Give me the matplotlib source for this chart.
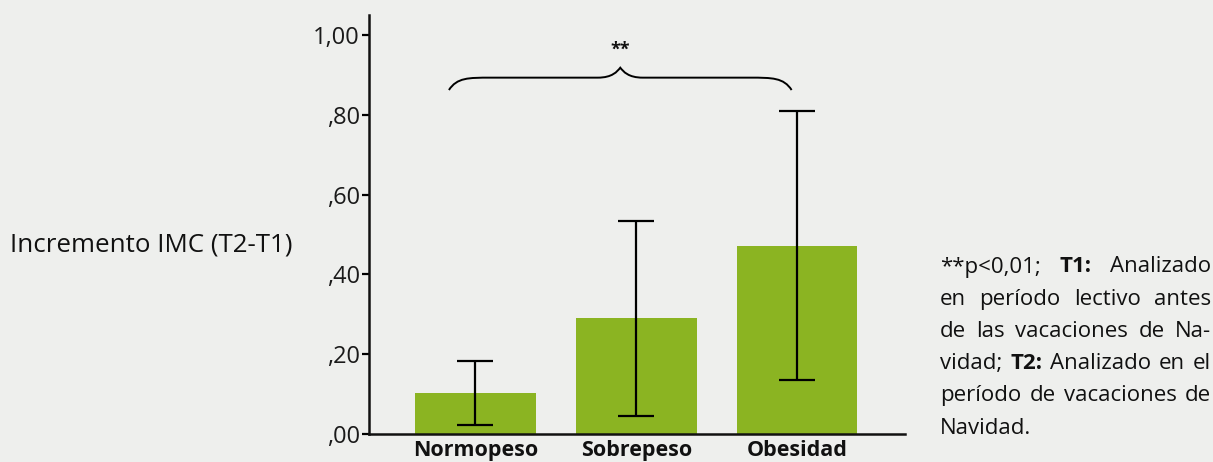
import matplotlib
matplotlib.use("Agg")
import matplotlib.pyplot as plt
import matplotlib.transforms as mtransforms
from matplotlib.path import Path
from matplotlib.patches import PathPatch
import numpy as np

categories = ["Normopeso", "Sobrepeso", "Obesidad"]
means = [0.103, 0.290, 0.472]
errors = [0.080, 0.245, 0.337]
yticks = [0.0, 0.2, 0.4, 0.6, 0.8, 1.0]
ytick_labels = [",00", ",20", ",40", ",60", ",80", "1,00"]
ylabel = "Incremento IMC (T2-T1)"
sig_label = "**"
note_lines = [
    [("**p<0,01;", False), ("T1:", True), ("Analizado", False)],
    [("en", False), ("período", False), ("lectivo", False), ("antes", False)],
    [("de", False), ("las", False), ("vacaciones", False), ("de", False), ("Na-", False)],
    [("vidad;", False), ("T2:", True), ("Analizado", False), ("en", False), ("el", False)],
    [("período", False), ("de", False), ("vacaciones", False), ("de", False)],
    [("Navidad.", False)],
]

BG = "#eeefed"
BAR = "#8bb422"
FONT = "Open Sans"

W, H = 1213, 462
fig = plt.figure(figsize=(W / 100, H / 100), dpi=100, facecolor=BG)
ax = fig.add_axes([369 / W, 1 - 434 / H, (905 - 369) / W, (434 - 15) / H])
ax.set_facecolor(BG)

x = np.arange(len(categories))
ax.bar(x, means, width=0.75, color=BAR, zorder=2)
ax.errorbar(x, means, yerr=errors, fmt="none", ecolor="black", elinewidth=1.6,
            capsize=13, capthick=1.6, zorder=3)

ax.set_xlim(-0.662, 2.671)
ax.set_ylim(0, 1.05)
ax.set_yticks(yticks)
ax.set_yticklabels(ytick_labels, fontfamily=FONT, fontsize=17, color="#1a1a1a")
shift = mtransforms.ScaledTranslation(0, 3 / 100, fig.dpi_scale_trans)
for lbl in ax.get_yticklabels():
    lbl.set_transform(lbl.get_transform() + shift)
ax.set_xticks(x)
ax.set_xticklabels(categories, fontfamily=FONT, fontsize=15.5, fontweight="bold", color="#111111")
ax.tick_params(axis="y", direction="out", length=5, width=1.6, pad=1.5)
ax.tick_params(axis="x", length=0, pad=4)
for s in ["top", "right"]:
    ax.spines[s].set_visible(False)
for s in ["left", "bottom"]:
    ax.spines[s].set_linewidth(1.8)
    ax.spines[s].set_color("#111111")

# brace in data coords
x0, x1 = -0.165, 1.966
xt = (x0 + x1) / 2
yb, ym, ytop = 0.862, 0.893, 0.918
codes = [Path.MOVETO, Path.CURVE4, Path.CURVE4, Path.CURVE4, Path.LINETO,
         Path.CURVE4, Path.CURVE4, Path.CURVE4,
         Path.CURVE4, Path.CURVE4, Path.CURVE4, Path.LINETO,
         Path.CURVE4, Path.CURVE4, Path.CURVE4]
d1 = 0.26
d2 = 0.14
verts = [(x0, yb), (x0 + 0.05, ym), (x0 + 0.12, ym), (x0 + d1, ym), (xt - d2, ym),
         (xt - 0.05, ym), (xt - 0.02, ytop - 0.01), (xt, ytop),
         (xt + 0.02, ytop - 0.01), (xt + 0.05, ym), (xt + d2, ym), (x1 - d1, ym),
         (x1 - 0.12, ym), (x1 - 0.05, ym), (x1, yb)]
ax.add_patch(PathPatch(Path(verts, codes), facecolor="none", edgecolor="black",
                       lw=1.4, clip_on=False, zorder=4))
ax.text(xt, 0.962, sig_label, ha="center", va="center", fontsize=13, fontweight="bold",
        fontfamily=FONT, color="#111111")

fig.text(10 / W, 1 - 245 / H, ylabel, ha="left", va="center", fontfamily=FONT,
         fontsize=18.6, color="#111111")

# justified note
renderer = fig.canvas.get_renderer()
left_px, right_px = 940, 1211
y0_px, lh = 267, 32.2
for i, line in enumerate(note_lines):
    ypx = y0_px + i * lh
    objs = []
    for word, bold in line:
        t = fig.text(0, 1 - ypx / H, word, ha="left", va="center", fontfamily=FONT,
                     fontsize=16, fontweight="bold" if bold else "normal", color="#111111")
        objs.append(t)
    widths = [o.get_window_extent(renderer).width for o in objs]
    if i < len(note_lines) - 1 and len(objs) > 1:
        gap = (right_px - left_px - sum(widths)) / (len(objs) - 1)
    else:
        gap = 5.5
    cur = left_px
    for o, w in zip(objs, widths):
        o.set_x(cur / W)
        cur += w + gap

fig.savefig("out.png", dpi=100, facecolor=BG)
